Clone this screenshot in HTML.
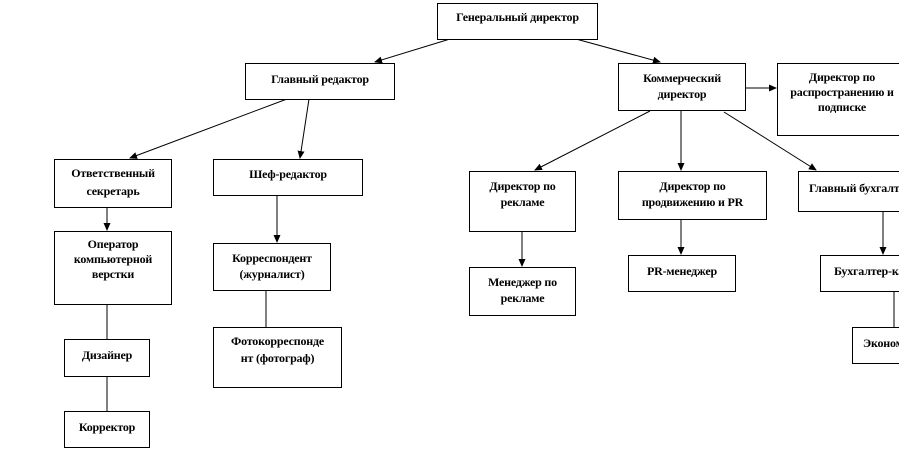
<!DOCTYPE html>
<html><head><meta charset="utf-8"><style>
html,body{margin:0;padding:0;background:#fff;width:899px;height:450px;overflow:hidden;position:relative}
.b{position:absolute;border:1px solid #000;box-sizing:border-box;background:#fff;font-family:"Liberation Serif","Noto Serif CJK SC",serif;font-weight:bold;font-size:12px;line-height:16px;text-align:center;padding-top:6px;white-space:nowrap;overflow:hidden;letter-spacing:-0.2px}
svg{position:absolute;left:0;top:0}
</style></head><body>
<svg width="899" height="450">
<defs><marker id="a" markerWidth="8" markerHeight="8" refX="7" refY="4" orient="auto" markerUnits="userSpaceOnUse"><path d="M0,0.5 L8,4 L0,7.5z" fill="#000"/></marker></defs>
<g stroke="#000" stroke-width="1" fill="none">
<line x1="450" y1="39" x2="375" y2="62" marker-end="url(#a)"/>
<line x1="576" y1="39" x2="660" y2="62" marker-end="url(#a)"/>
<line x1="287" y1="99" x2="130" y2="158" marker-end="url(#a)"/>
<line x1="309" y1="99" x2="300" y2="158" marker-end="url(#a)"/>
<line x1="107" y1="207" x2="107" y2="230" marker-end="url(#a)"/>
<line x1="277" y1="195" x2="277" y2="242" marker-end="url(#a)"/>
<line x1="107" y1="304" x2="107" y2="339"/>
<line x1="107" y1="376" x2="107" y2="411"/>
<line x1="266" y1="290" x2="266" y2="327"/>
<line x1="745" y1="88" x2="776" y2="88" marker-end="url(#a)"/>
<line x1="650" y1="111" x2="535" y2="170" marker-end="url(#a)"/>
<line x1="681" y1="110" x2="681" y2="170" marker-end="url(#a)"/>
<line x1="724" y1="112" x2="816" y2="170" marker-end="url(#a)"/>
<line x1="522" y1="231" x2="522" y2="266" marker-end="url(#a)"/>
<line x1="681" y1="219" x2="681" y2="254" marker-end="url(#a)"/>
<line x1="883" y1="211" x2="883" y2="254" marker-end="url(#a)"/>
<line x1="894" y1="291" x2="894" y2="327"/>
</g></svg>
<div class="b" style="left:437px;top:3px;width:161px;height:37px;padding-top:5px">Генеральный директор</div>
<div class="b" style="left:245px;top:63px;width:150px;height:37px;padding-top:7px">Главный редактор</div>
<div class="b" style="left:618px;top:63px;width:128px;height:48px">Коммерческий<br>директор</div>
<div class="b" style="left:777px;top:63px;width:130px;height:73px;line-height:15px">Директор по<br>распространению и<br>подписке</div>
<div class="b" style="left:54px;top:159px;width:118px;height:49px;line-height:18px;padding-top:4px">Ответственный<br>секретарь</div>
<div class="b" style="left:213px;top:159px;width:150px;height:37px">Шеф-редактор</div>
<div class="b" style="left:54px;top:231px;width:118px;height:74px;line-height:15px;padding-top:5px">Оператор<br>компьютерной<br>верстки</div>
<div class="b" style="left:213px;top:243px;width:118px;height:48px">Корреспондент<br>(журналист)</div>
<div class="b" style="left:64px;top:339px;width:86px;height:38px;padding-top:7px">Дизайнер</div>
<div class="b" style="left:64px;top:411px;width:86px;height:37px;padding-top:7px">Корректор</div>
<div class="b" style="left:213px;top:327px;width:129px;height:61px;line-height:17px;padding-top:5px">Фотокорреспонде<br>нт (фотограф)</div>
<div class="b" style="left:469px;top:171px;width:107px;height:61px">Директор по<br>рекламе</div>
<div class="b" style="left:618px;top:171px;width:149px;height:49px">Директор по<br>продвижению и PR</div>
<div class="b" style="left:798px;top:171px;width:130px;height:41px;padding-top:8px;text-align:left;padding-left:10px">Главный бухгалтер</div>
<div class="b" style="left:469px;top:267px;width:107px;height:49px">Менеджер по<br>рекламе</div>
<div class="b" style="left:628px;top:255px;width:108px;height:37px;padding-top:7px">PR-менеджер</div>
<div class="b" style="left:820px;top:255px;width:110px;height:37px;padding-top:7px;text-align:left;padding-left:13px">Бухгалтер-кассир</div>
<div class="b" style="left:852px;top:327px;width:90px;height:37px;padding-top:7px;text-align:left;padding-left:10px">Экономист</div>
</body></html>
